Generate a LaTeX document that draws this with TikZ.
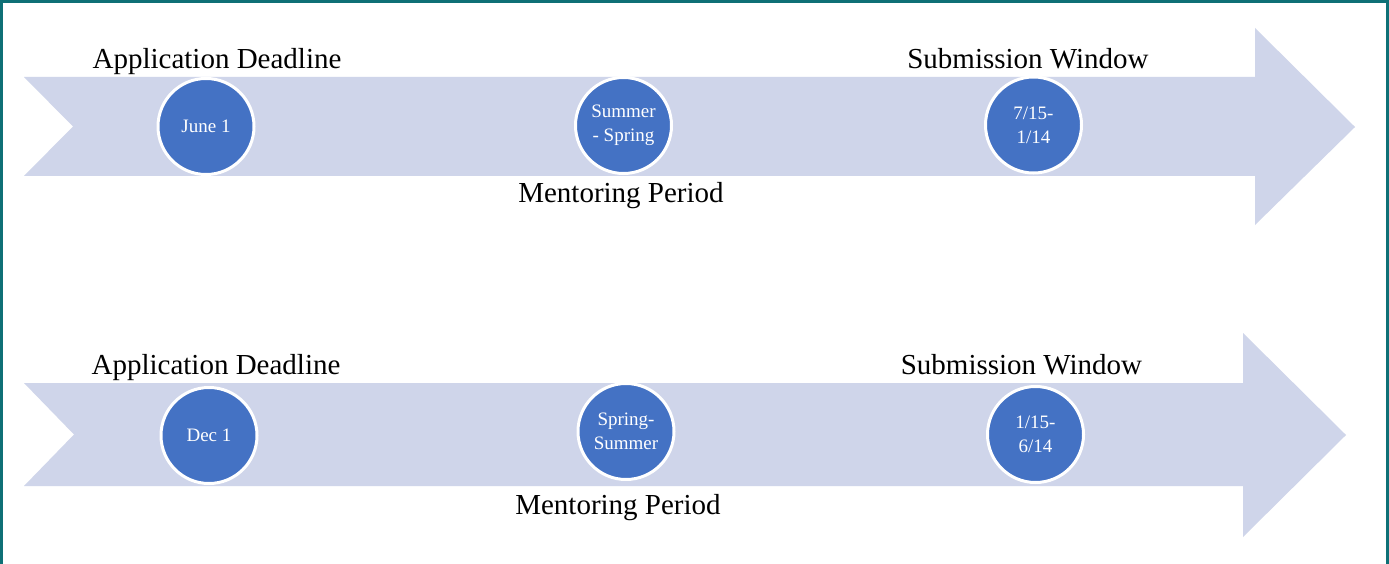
\documentclass[tikz,border=0pt]{standalone}
\usepackage{fontspec}
\setmainfont{Liberation Serif}
\definecolor{arrowfill}{HTML}{CFD5EA}
\definecolor{dotfill}{HTML}{4472C4}
\definecolor{frame}{RGB}{14,112,118}
\begin{document}
\begin{tikzpicture}[x=1pt,y=-1pt,
  dot/.style={circle,fill=dotfill,draw=white,line width=3pt,minimum size=96pt,inner sep=0pt,
    text=white,align=center,font=\fontsize{19}{24}\selectfont},
  lbl/.style={anchor=base,inner sep=0pt,font=\fontsize{29}{32}\selectfont},
  band/.style={fill=arrowfill}]
\useasboundingbox (0,0) rectangle (1389,564);
\fill[white] (0,0) rectangle (1389,564);
% arrow 1
\fill[band] (24,77) -- (1255,77) -- (1255,28) -- (1355,127) -- (1255,225) -- (1255,176) -- (24,176) -- (73,126.5) -- cycle;
% arrow 2
\fill[band] (24,383) -- (1243,383) -- (1243,333) -- (1346,435) -- (1243,537) -- (1243,486) -- (24,486) -- (74,434.5) -- cycle;
% row 1
\node[dot] (c11) at (206,126.5) {June 1};
\node[dot] (c12) at (623.5,125.5) {Summer\\- Spring};
\node[dot] (c13) at (1033.5,125) {7/15-\\1/14};
\node[lbl] (t11) at (217,68.5) {Application Deadline};
\node[lbl] (t12) at (1028,68.5) {Submission Window};
\node[lbl] (t13) at (621,203) {Mentoring Period};
% row 2
\node[dot] (c21) at (209,435.5) {Dec 1};
\node[dot] (c22) at (626,431.5) {Spring-\\Summer};
\node[dot] (c23) at (1035.5,434.5) {1/15-\\6/14};
\node[lbl] (t21) at (216,374.5) {Application Deadline};
\node[lbl] (t22) at (1021.5,374.5) {Submission Window};
\node[lbl] (t23) at (618,514) {Mentoring Period};
% frame
\fill[frame] (0,0) rectangle (1389,3);
\fill[frame] (0,0) rectangle (3,564);
\fill[frame] (1386,0) rectangle (1389,564);
\end{tikzpicture}
\end{document}
